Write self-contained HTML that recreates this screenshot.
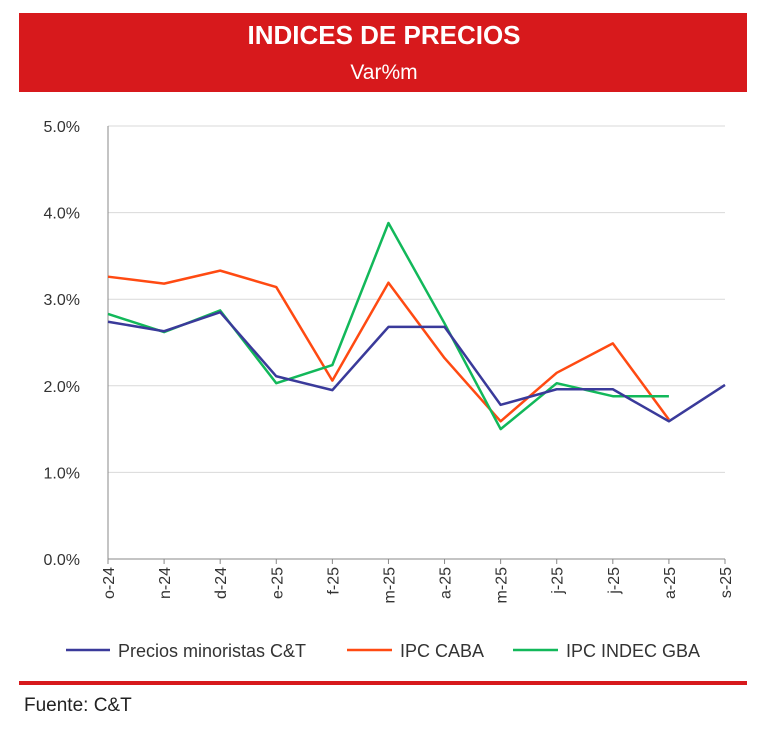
<!DOCTYPE html>
<html><head><meta charset="utf-8"><style>
body{margin:0;width:773px;height:730px;background:#fff;font-family:"Liberation Sans",sans-serif;overflow:hidden}
</style></head><body>
<svg width="773" height="730">
<rect x="19" y="13" width="728" height="79" fill="#d7191c"/>
<text x="384" y="44" text-anchor="middle" fill="#fff" font-size="26" font-weight="bold">INDICES DE PRECIOS</text>
<text x="384" y="79" text-anchor="middle" fill="#fff" font-size="21">Var%m</text>
<g id="grid"></g><g id="xt"></g><g id="lines"></g>
<line x1="66" y1="650" x2="110" y2="650" stroke="#3a3a9a" stroke-width="2.5"/>
<text x="118" y="657" font-size="18" fill="#333">Precios minoristas C&amp;T</text>
<line x1="347" y1="650" x2="392" y2="650" stroke="#ff4a12" stroke-width="2.5"/>
<text x="400" y="657" font-size="18" fill="#333">IPC CABA</text>
<line x1="513" y1="650" x2="558" y2="650" stroke="#12b85a" stroke-width="2.5"/>
<text x="566" y="657" font-size="18" fill="#333">IPC INDEC GBA</text>
<rect x="19" y="681" width="728" height="4" fill="#d7191c"/>
<text x="24" y="711" font-size="19" fill="#222">Fuente: C&amp;T</text>
</svg>
<script>
const categories=["o-24","n-24","d-24","e-25","f-25","m-25","a-25","m-25","j-25","j-25","a-25","s-25"];
const ctValues=[2.74,2.63,2.85,2.11,1.95,2.68,2.68,1.78,1.96,1.96,1.59,2.01];
const cabaValues=[3.26,3.18,3.33,3.14,2.06,3.19,2.32,1.59,2.15,2.49,1.61,null];
const gbaValues=[2.83,2.62,2.87,2.03,2.24,3.88,2.72,1.50,2.03,1.88,1.88,null];
const yTicks=[0,1,2,3,4,5];
const NS="http://www.w3.org/2000/svg";
const x0=108,x1=725,y0=559,ppu=86.6;
const xs=i=>x0+i*(x1-x0)/(categories.length-1);
const ys=v=>y0-v*ppu;
function mk(t,a,p){const e=document.createElementNS(NS,t);for(const k in a)e.setAttribute(k,a[k]);p.appendChild(e);return e;}
const g=document.getElementById('grid');
yTicks.forEach(v=>{
 const l=mk('line',{x1:x0,x2:x1,y1:ys(v),y2:ys(v),stroke:v===0?'#888':'#d9d9d9','stroke-width':1},g);
 
 
 const t=mk('text',{x:80,y:ys(v)+6,'text-anchor':'end','font-size':16,fill:'#333'},g);
 t.textContent=v.toFixed(1)+'%';
 
 
});
const ya=mk('line',{x1:x0,x2:x0,y1:ys(5),y2:y0,stroke:'#888'},g);


const xt=document.getElementById('xt');
categories.forEach((c,i)=>{
 const x=xs(i);
 const tk=mk('line',{x1:x,x2:x,y1:y0,y2:y0+5,stroke:'#888'},xt);
 
 
 const t=mk('text',{x:0,y:0,transform:`translate(${x+6},${y0+8}) rotate(-90)`,'text-anchor':'end','font-size':16,fill:'#333'},xt);
 t.textContent=c;
 
 
});
const L=document.getElementById('lines');
[[cabaValues,'#ff4a12','line-ipc-caba'],[gbaValues,'#12b85a','line-ipc-gba'],[ctValues,'#3a3a9a','line-precios-ct']].forEach(([vals,col,n])=>{
 const pts=vals.map((v,i)=>v==null?null:xs(i)+','+ys(v)).filter(p=>p);
 const p=mk('polyline',{points:pts.join(' '),fill:'none',stroke:col,'stroke-width':2.5,'stroke-linejoin':'round'},L);
 
 
});
</script>
</body></html>
